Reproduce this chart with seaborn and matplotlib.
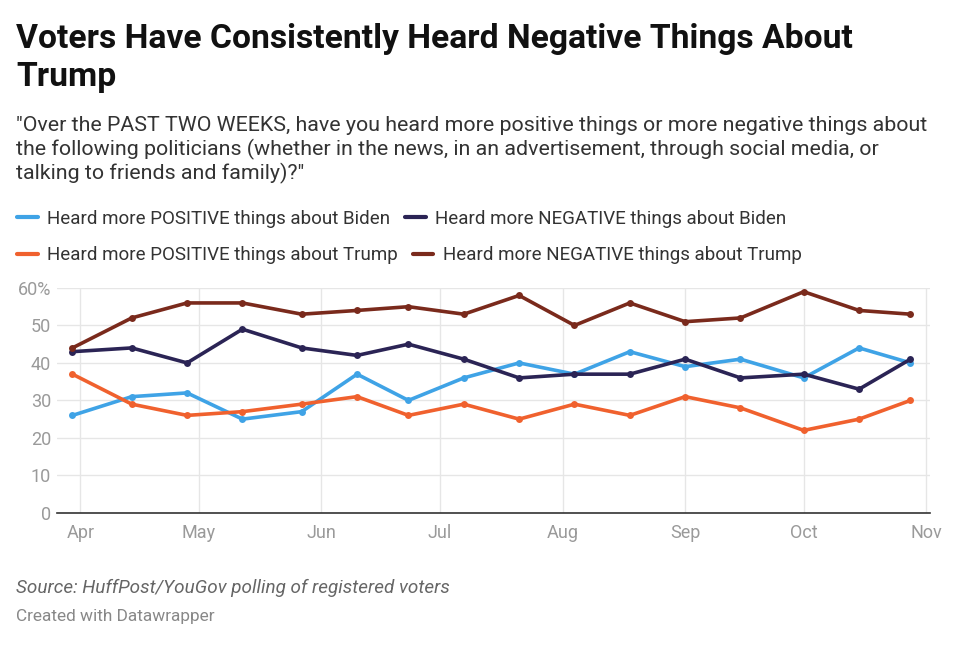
import pandas as pd
import seaborn as sns
import matplotlib.pyplot as plt
from matplotlib.lines import Line2D

# poll dates (roughly every two weeks, 2020)
dates = ['2020-03-30', '2020-04-14', '2020-04-28', '2020-05-12', '2020-05-27',
         '2020-06-10', '2020-06-23', '2020-07-07', '2020-07-21', '2020-08-04',
         '2020-08-18', '2020-09-01', '2020-09-15', '2020-10-01', '2020-10-15',
         '2020-10-28']

pos_biden = [26, 31, 32, 25, 27, 37, 30, 36, 40, 37, 43, 39, 41, 36, 44, 40]
neg_biden = [43, 44, 40, 49, 44, 42, 45, 41, 36, 37, 37, 41, 36, 37, 33, 41]
pos_trump = [37, 29, 26, 27, 29, 31, 26, 29, 25, 29, 26, 31, 28, 22, 25, 30]
neg_trump = [44, 52, 56, 56, 53, 54, 55, 53, 58, 50, 56, 51, 52, 59, 54, 53]

series_names = ['Heard more POSITIVE things about Biden',
                'Heard more NEGATIVE things about Biden',
                'Heard more POSITIVE things about Trump',
                'Heard more NEGATIVE things about Trump']
colors = ['#3fa3e6', '#2b2455', '#f0612e', '#7a2a1c']

month_ticks = ['2020-04-01', '2020-05-01', '2020-06-01', '2020-07-01',
               '2020-08-01', '2020-09-01', '2020-10-01', '2020-11-01']
month_labels = ['Apr', 'May', 'Jun', 'Jul', 'Aug', 'Sep', 'Oct', 'Nov']

title_lines = ['Voters Have Consistently Heard Negative Things About', 'Trump']
subtitle_lines = ['"Over the PAST TWO WEEKS, have you heard more positive things or more negative things about',
                  'the following politicians (whether in the news, in an advertisement, through social media, or',
                  'talking to friends and family)?"']


def main():
    df = pd.DataFrame({'date': pd.to_datetime(dates)})
    for name, vals in zip(series_names, [pos_biden, neg_biden, pos_trump, neg_trump]):
        df[name] = vals
    long = df.melt(id_vars='date', var_name='series', value_name='pct')

    sns.set_style('white')
    plt.rcParams['font.family'] = ['Roboto', 'DejaVu Sans']

    fig = plt.figure(figsize=(9.6, 6.5), dpi=100)
    ax = fig.add_axes([0.059, 0.211, 0.91, 0.346])

    sns.lineplot(data=long, x='date', y='pct', hue='series',
                 hue_order=series_names, palette=colors,
                 marker='o', markersize=5, markeredgewidth=0,
                 linewidth=2.6, legend=False, ax=ax)

    ax.set_ylim(0, 60)
    ax.set_xlim(pd.Timestamp('2020-03-26'), pd.Timestamp('2020-11-02'))
    ax.set_yticks([0, 10, 20, 30, 40, 50, 60])
    ax.set_yticklabels(['0', '10', '20', '30', '40', '50', '60%'])
    ax.set_xticks(pd.to_datetime(month_ticks))
    ax.set_xticklabels(month_labels)
    ax.set_xlabel('')
    ax.set_ylabel('')
    ax.grid(True, color='#e6e6e6', linewidth=1)
    ax.set_axisbelow(True)
    for s in ['top', 'right', 'left']:
        ax.spines[s].set_visible(False)
    ax.spines['bottom'].set_color('#333333')
    ax.spines['bottom'].set_linewidth(1.2)
    ax.tick_params(axis='both', length=0, labelsize=13, labelcolor='#9a9a9a')
    ax.tick_params(axis='x', pad=8)
    ax.tick_params(axis='y', pad=4)

    # title and subtitle, one text per line so baselines can be placed
    for i, line in enumerate(title_lines):
        fig.text(0.017, 0.926 - i * 0.058, line, fontsize=24.2,
                 fontweight='bold', color='#111111', va='baseline')
    for i, line in enumerate(subtitle_lines):
        fig.text(0.017, 0.798 - i * 0.037, line, fontsize=15.4,
                 color='#333333', va='baseline')

    handles = [Line2D([0], [0], color=c, linewidth=3) for c in colors]
    legs = []
    for row, y in enumerate([0.663, 0.607]):
        leg = fig.legend(handles[2 * row:2 * row + 2], series_names[2 * row:2 * row + 2],
                         loc='center left', bbox_to_anchor=(0.008, y), ncol=2,
                         frameon=False, fontsize=13.5, handlelength=1.1,
                         handletextpad=0.5, columnspacing=0.8, borderpad=0)
        for t in leg.get_texts():
            t.set_color('#333333')
        legs.append(leg)

    fig.text(0.017, 0.095, 'Source: HuffPost/YouGov polling of registered voters',
             fontsize=13.6, style='italic', color='#666666', va='center')
    fig.text(0.017, 0.052, 'Created with Datawrapper',
             fontsize=12.4, color='#888888', va='center')

    fig.savefig('out.png', dpi=100)
    plt.close(fig)


if __name__ == "__main__":
    raise SystemExit(main())
